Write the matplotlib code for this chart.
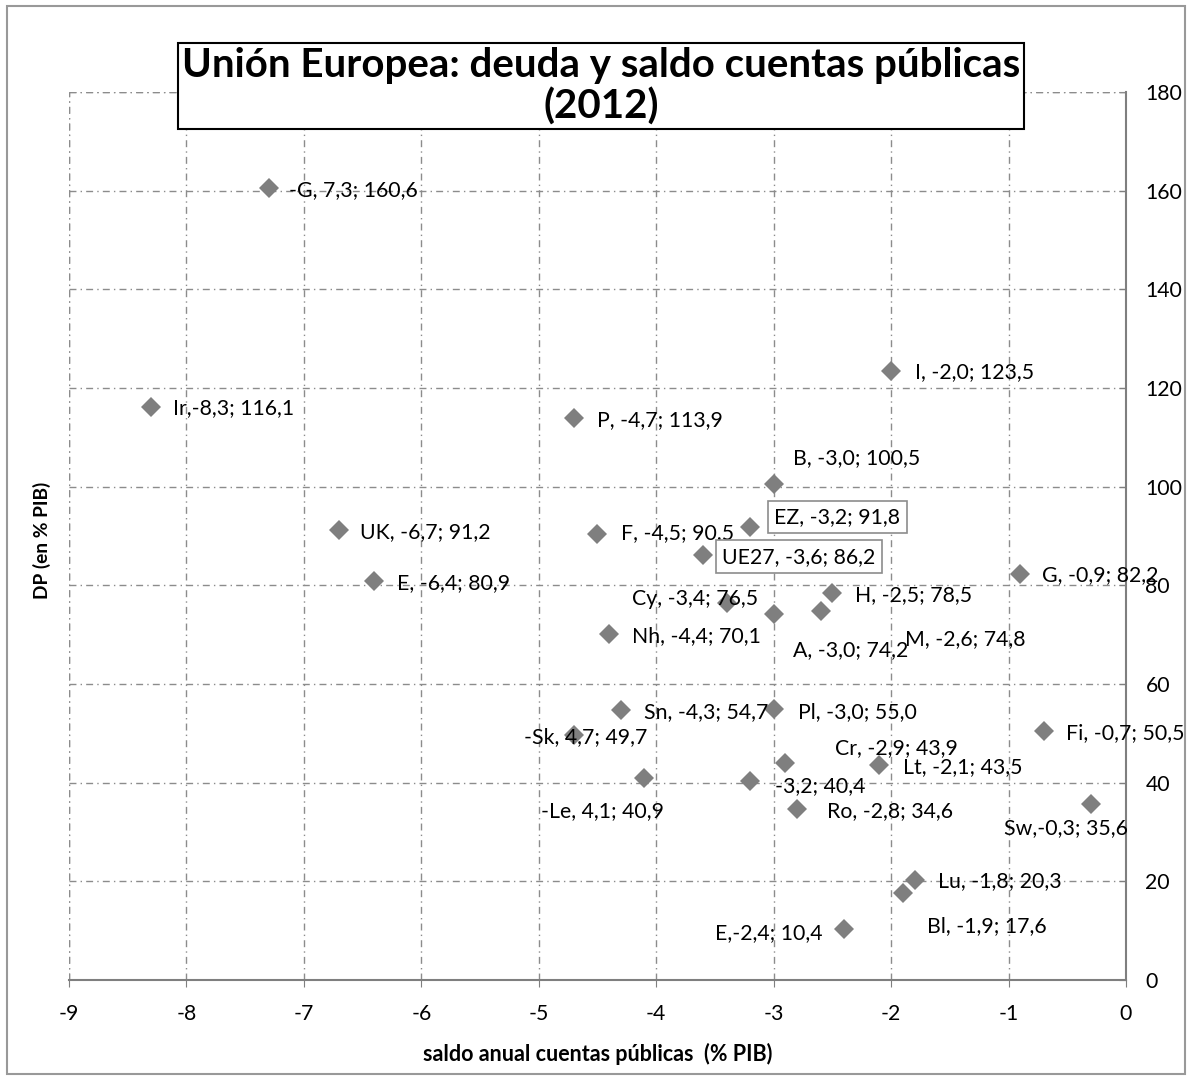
import matplotlib.pyplot as plt
from matplotlib.patches import Rectangle
from matplotlib.ticker import MultipleLocator

plt.rcParams['font.family'] = ['Lato', 'DejaVu Sans']
plt.rcParams['axes.unicode_minus'] = False

# Saldo público (% PIB) y deuda pública (% PIB), 2012
saldo = [-7.3, -8.3, -2.0, -4.7, -3.0, -3.2, -6.7, -4.5, -3.6, -0.9,
         -6.4, -3.4, -2.5, -3.0, -2.6, -4.4, -4.3, -3.0, -4.7, -0.7,
         -2.9, -2.1, -3.2, -4.1, -2.8, -0.3, -1.8, -1.9, -2.4]
deuda = [160.6, 116.1, 123.5, 113.9, 100.5, 91.8, 91.2, 90.5, 86.2, 82.2,
         80.9, 76.5, 78.5, 74.2, 74.8, 70.1, 54.7, 55.0, 49.7, 50.5,
         43.9, 43.5, 40.4, 40.9, 34.6, 35.6, 20.3, 17.6, 10.4]
etiquetas = ["-G, 7,3; 160,6", "Ir,-8,3; 116,1", "I, -2,0; 123,5", "P, -4,7; 113,9",
             "B, -3,0; 100,5", "EZ, -3,2; 91,8", "UK, -6,7; 91,2", "F, -4,5; 90,5",
             "UE27, -3,6; 86,2", "G, -0,9; 82,2", "E, -6,4; 80,9", "Cy, -3,4; 76,5",
             "H, -2,5; 78,5", "A, -3,0; 74,2", "M, -2,6; 74,8", "Nh, -4,4; 70,1",
             "Sn, -4,3; 54,7", "Pl, -3,0; 55,0", "-Sk, 4,7; 49,7", "Fi, -0,7; 50,5",
             "Cr, -2,9; 43,9", "Lt, -2,1; 43,5", "-3,2; 40,4", "-Le, 4,1; 40,9",
             "Ro, -2,8; 34,6", "Sw,-0,3; 35,6", "Lu, -1,8; 20,3", "Bl, -1,9; 17,6",
             "E,-2,4; 10,4"]
recuadro = ["EZ, -3,2; 91,8", "UE27, -3,6; 86,2"]

# desplazamiento de cada etiqueta respecto a su punto (pixeles, y hacia abajo)
desp = [(20, 2), (22, 1), (24, 1), (23, 2), (19, -26), (24, -10), (21, 2), (24, 0),
        (19, 2), (22, 1), (23, 2), (-95, -4), (23, 2), (19, 36), (84, 28), (23, 2),
        (23, 2), (24, 3), (-50, 2), (22, 2), (50, -15), (24, 2), (25, 5), (-103, 33),
        (30, 2), (-87, 24), (23, 1), (24, 33), (-129, 4)]

grey = '#7f7f7f'
gridc = '#8c8c8c'
dashdot = (0, (5, 3, 1, 3))

fig = plt.figure(figsize=(11.92, 10.8), dpi=100)
fig.patches.append(Rectangle((0.006, 0.006), 0.988, 0.988, transform=fig.transFigure,
                             fill=False, edgecolor='#999999', linewidth=1.5))
ax = fig.add_axes([0.0579, 0.0926, 0.8867, 0.8222])

ax.plot(saldo, deuda, linestyle='none', marker='D', markersize=10,
        color=grey, markeredgewidth=0, zorder=3)

for x, y, txt, (dx, dy) in zip(saldo, deuda, etiquetas, desp):
    kw = {}
    if txt in recuadro:
        kw['bbox'] = dict(boxstyle='square,pad=0.3', facecolor='white',
                          edgecolor='#8c8c8c', linewidth=1.2)
    ax.annotate(txt, (x, y), xytext=(dx, -dy), textcoords='offset pixels',
                ha='left', va='center', fontsize=15.3, color='black', zorder=4, **kw)

ax.set_xlim(-9, 0)
ax.set_ylim(0, 180)
ax.xaxis.set_major_locator(MultipleLocator(1))
ax.yaxis.set_major_locator(MultipleLocator(20))
ax.yaxis.tick_right()
ax.tick_params(axis='y', direction='in', length=5, color=grey, labelsize=15.3, pad=14)
ax.tick_params(axis='x', direction='out', length=5, color=grey, labelsize=15.3, pad=12)

for s in ['left', 'top']:
    ax.spines[s].set_visible(False)
for s in ['right', 'bottom']:
    ax.spines[s].set_color(grey)
    ax.spines[s].set_linewidth(1.5)

ax.grid(True, color=gridc, linewidth=1.0, linestyle=dashdot)
# borde superior e izquierdo con el mismo trazo que la rejilla
ax.axvline(-9, color=gridc, linewidth=1.0, linestyle=dashdot)
ax.axhline(180, color=gridc, linewidth=1.0, linestyle=dashdot)
ax.set_axisbelow(True)

ax.set_xlabel("saldo anual cuentas públicas  (% PIB)", fontsize=15.5, fontweight='bold', labelpad=14)
fig.text(0.035, 0.5, "DP (en % PIB)", rotation=90, fontsize=13.8, fontweight='bold',
         ha='center', va='center')

fig.text(0.504, 0.920, "Unión Europea: deuda y saldo cuentas públicas\n(2012)",
         ha='center', va='center', fontsize=29, fontweight='bold', linespacing=1.1,
         bbox=dict(boxstyle='square,pad=0.1', facecolor='white', edgecolor='black', linewidth=1.5))

fig.savefig('out.png', dpi=100)
